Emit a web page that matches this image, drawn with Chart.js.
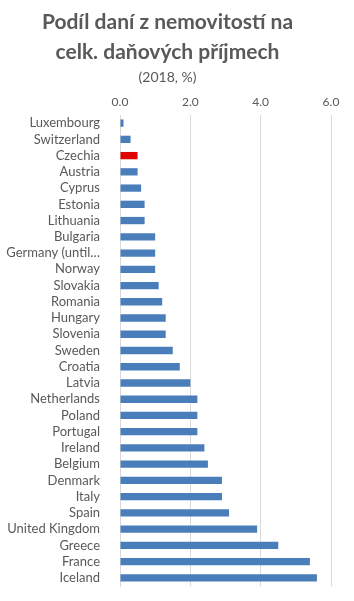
<!DOCTYPE html>
<html>
<head>
<meta charset="utf-8">
<script src="https://cdn.jsdelivr.net/npm/chart.js@4"></script>
<style>
  html,body{margin:0;padding:0;background:#fff}
  #wrap{width:354px;height:601px;position:relative}
</style>
</head>
<body>
<div id="wrap"><canvas id="taxChart"></canvas></div>
<script>
// data (share of property tax in total tax revenue, 2018, %)
const countries = ["Luxembourg","Switzerland","Czechia","Austria","Cyprus","Estonia","Lithuania","Bulgaria","Germany (until…","Norway","Slovakia","Romania","Hungary","Slovenia","Sweden","Croatia","Latvia","Netherlands","Poland","Portugal","Ireland","Belgium","Denmark","Italy","Spain","United Kingdom","Greece","France","Iceland"];
const shares    = [0.1,0.3,0.5,0.5,0.6,0.7,0.7,1.0,1.0,1.0,1.1,1.2,1.3,1.3,1.5,1.7,2.0,2.2,2.2,2.2,2.4,2.5,2.9,2.9,3.1,3.9,4.5,5.4,5.6];
const highlight = "Czechia";
const xTicks    = [0,2,4,6];

const FONT = "Lato, 'Open Sans', sans-serif";
const GREY = "#595959";

new Chart(document.getElementById("taxChart"), {
  type:"bar",
  data:{
    labels:countries,
    datasets:[{
      data:shares,
      backgroundColor:countries.map(c=>c===highlight?"#e00000":"#4a7ebb"),
      barPercentage:0.45, categoryPercentage:1.0
    }]
  },
  options:{
    indexAxis:"y", responsive:true, maintainAspectRatio:false, animation:false,
    layout:{padding:{left:4,right:23,top:8,bottom:15}},
    plugins:{
      legend:{display:false}, tooltip:{enabled:false},
      title:{display:true, text:["Podíl daní z nemovitostí na","celk. daňových příjmech"], color:GREY,
             font:{family:FONT,size:21,weight:"bold",lineHeight:1.4}, padding:{top:0,bottom:2}},
      subtitle:{display:true, text:"(2018, %)", color:GREY, font:{family:FONT,size:14}, padding:{top:0,bottom:3}},
    },
    scales:{
      x:{position:"top", min:xTicks[0], max:xTicks[xTicks.length-1],
         afterBuildTicks:s=>{ s.ticks = xTicks.map(v=>({value:v})); },
         ticks:{callback:v=>v.toFixed(1), color:GREY, font:{family:FONT,size:12}, padding:6},
         grid:{color:"#d9d9d9", drawTicks:false}, border:{display:false}},
      y:{afterFit:s=>{ s.width = 116; s.paddingTop = 0; s.paddingBottom = 0; },
         ticks:{color:GREY, font:{family:FONT,size:13}, padding:12, autoSkip:false},
         grid:{display:false}, border:{display:true,color:"#d9d9d9"}}
    }
  }
});
</script>
</body>
</html>
